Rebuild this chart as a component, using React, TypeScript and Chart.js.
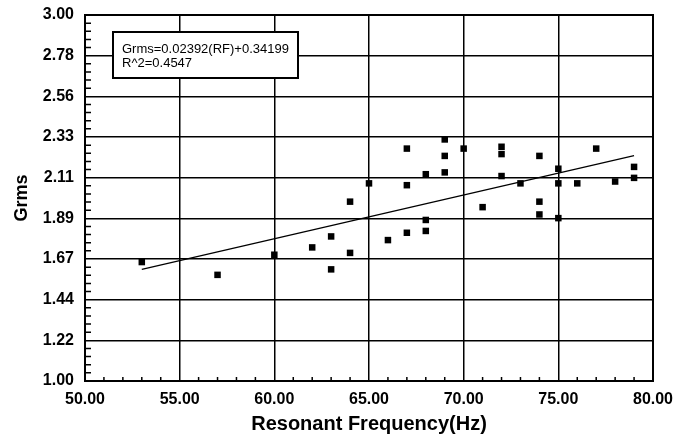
import React, { useEffect, useRef } from 'react';
import { Chart, registerables } from 'chart.js';

Chart.register(...registerables);

// Resonant frequency (Hz) and measured Grms for each test point
const rfValues = [53, 57, 60, 62, 63, 63, 64, 64, 65, 66, 67, 67, 67, 68, 68, 68, 69, 69, 69, 70, 71, 72, 72, 72, 73, 74, 74, 74, 75, 75, 75, 76, 77, 78, 79, 79];
const grmsValues = [1.65, 1.58, 1.69, 1.73, 1.79, 1.61, 1.70, 1.98, 2.08, 1.77, 1.81, 2.27, 2.07, 2.13, 1.88, 1.82, 2.32, 2.23, 2.14, 2.27, 1.95, 2.28, 2.24, 2.12, 2.08, 2.23, 1.98, 1.91, 2.16, 2.08, 1.89, 2.08, 2.27, 2.09, 2.17, 2.11];

// Regression shown on the chart
const trendSlope = 0.02392;
const trendIntercept = 0.34199;
const trendRange = [53, 79];
const annotationLines = ['Grms=0.02392(RF)+0.34199', 'R^2=0.4547'];

// Axes
const xTickValues = [50, 55, 60, 65, 70, 75, 80];
const yTickLabels = ['1.00', '1.22', '1.44', '1.67', '1.89', '2.11', '2.33', '2.56', '2.78', '3.00'];
const yMin = 1;
const yMax = 3;

const FONT = "'Liberation Sans', Arial, Helvetica, sans-serif";

const framePlugin = {
  id: 'frameAndMinorTicks',
  beforeDatasetsDraw(chart: any) {
    const { ctx, chartArea: a, scales } = chart;
    const x = scales.x;
    const y = scales.y;
    ctx.save();
    ctx.strokeStyle = '#000';
    ctx.lineWidth = 1.5;
    ctx.beginPath();
    const xMin = xTickValues[0];
    const xMax = xTickValues[xTickValues.length - 1];
    for (let v = xMin + 1; v < xMax; v++) {
      if ((v - xMin) % 5 === 0) continue;
      const px = x.getPixelForValue(v);
      ctx.moveTo(px, a.bottom);
      ctx.lineTo(px, a.bottom - 4);
    }
    const major = (yMax - yMin) / (yTickLabels.length - 1);
    const minor = major / 5;
    const n = Math.round((yMax - yMin) / minor);
    for (let i = 1; i < n; i++) {
      if (i % 5 === 0) continue;
      const py = y.getPixelForValue(yMin + i * minor);
      ctx.moveTo(a.left, py);
      ctx.lineTo(a.left + 6, py);
    }
    ctx.stroke();
    ctx.lineWidth = 2;
    ctx.strokeRect(a.left, a.top, a.right - a.left, a.bottom - a.top);
    ctx.restore();
  },
  afterDraw(chart: any) {
    const { ctx, chartArea: a } = chart;
    const bx = a.left + 28;
    const by = a.top + 17;
    const bw = 185;
    const bh = 46;
    ctx.save();
    ctx.fillStyle = '#fff';
    ctx.fillRect(bx, by, bw, bh);
    ctx.strokeStyle = '#000';
    ctx.lineWidth = 2;
    ctx.strokeRect(bx, by, bw, bh);
    ctx.fillStyle = '#000';
    ctx.font = `13px ${FONT}`;
    ctx.textBaseline = 'middle';
    ctx.textAlign = 'left';
    annotationLines.forEach((t, i) => {
      ctx.fillText(t, bx + 9, by + 17 + i * 14);
    });
    ctx.restore();
  },
};

export default function App() {
  const canvasRef = useRef<HTMLCanvasElement | null>(null);

  useEffect(() => {
    document.body.style.margin = '0';
    const canvas = canvasRef.current;
    if (!canvas) return;

    const scatterData = rfValues.map((rf, i) => ({ x: rf, y: grmsValues[i] }));
    const trendData = trendRange.map((rf) => ({ x: rf, y: trendSlope * rf + trendIntercept }));

    const chart = new Chart(canvas, {
      type: 'scatter',
      data: {
        datasets: [
          {
            type: 'line',
            label: 'Trend',
            data: trendData,
            borderColor: '#000',
            borderWidth: 1.3,
            pointRadius: 0,
            fill: false,
            tension: 0,
          } as any,
          {
            type: 'scatter',
            label: 'Grms',
            data: scatterData,
            pointStyle: 'rect',
            pointRadius: 4.6,
            backgroundColor: '#000',
            borderColor: '#000',
            borderWidth: 0,
          },
        ],
      },
      options: {
        animation: false,
        responsive: true,
        maintainAspectRatio: false,
        layout: { padding: { top: 15, right: 20, left: 0, bottom: 0 } },
        plugins: {
          legend: { display: false },
          tooltip: { enabled: false },
        },
        scales: {
          x: {
            type: 'linear',
            min: xTickValues[0],
            max: xTickValues[xTickValues.length - 1],
            afterBuildTicks: (scale: any) => {
              scale.ticks = xTickValues.map((v) => ({ value: v }));
            },
            afterFit: (scale: any) => {
              scale.height = 62;
              scale.paddingLeft = 0;
              scale.paddingRight = 0;
            },
            ticks: {
              padding: 9,
              color: '#000',
              font: { family: FONT, size: 16, weight: 'bold' },
              callback: (v: any) => Number(v).toFixed(2),
              maxRotation: 0,
              autoSkip: false,
            },
            grid: { color: '#000', lineWidth: 1.5, drawTicks: false },
            border: { display: false },
            title: {
              display: true,
              text: 'Resonant Frequency(Hz)',
              color: '#000',
              font: { family: FONT, size: 20, weight: 'bold' },
              padding: { top: 0, bottom: 7 },
            },
          },
          y: {
            type: 'linear',
            min: yMin,
            max: yMax,
            afterBuildTicks: (scale: any) => {
              const step = (yMax - yMin) / (yTickLabels.length - 1);
              scale.ticks = yTickLabels.map((_, i) => ({ value: yMin + i * step }));
            },
            afterFit: (scale: any) => {
              scale.width = 85;
              scale.paddingTop = 0;
              scale.paddingBottom = 0;
            },
            ticks: {
              padding: 11,
              color: '#000',
              font: { family: FONT, size: 16, weight: 'bold' },
              callback: (_v: any, i: number) => yTickLabels[i],
              autoSkip: false,
            },
            grid: { color: '#000', lineWidth: 1.5, drawTicks: false },
            border: { display: false },
            title: {
              display: true,
              text: 'Grms',
              color: '#000',
              font: { family: FONT, size: 18, weight: 'bold' },
              padding: { top: 11, bottom: 0 },
            },
          },
        },
      },
      plugins: [framePlugin],
    });

    return () => {
      chart.destroy();
    };
  }, []);

  return (
    <div style={{ position: 'absolute', left: 0, top: 0, width: 673, height: 443 }}>
      <canvas ref={canvasRef} />
    </div>
  );
}
